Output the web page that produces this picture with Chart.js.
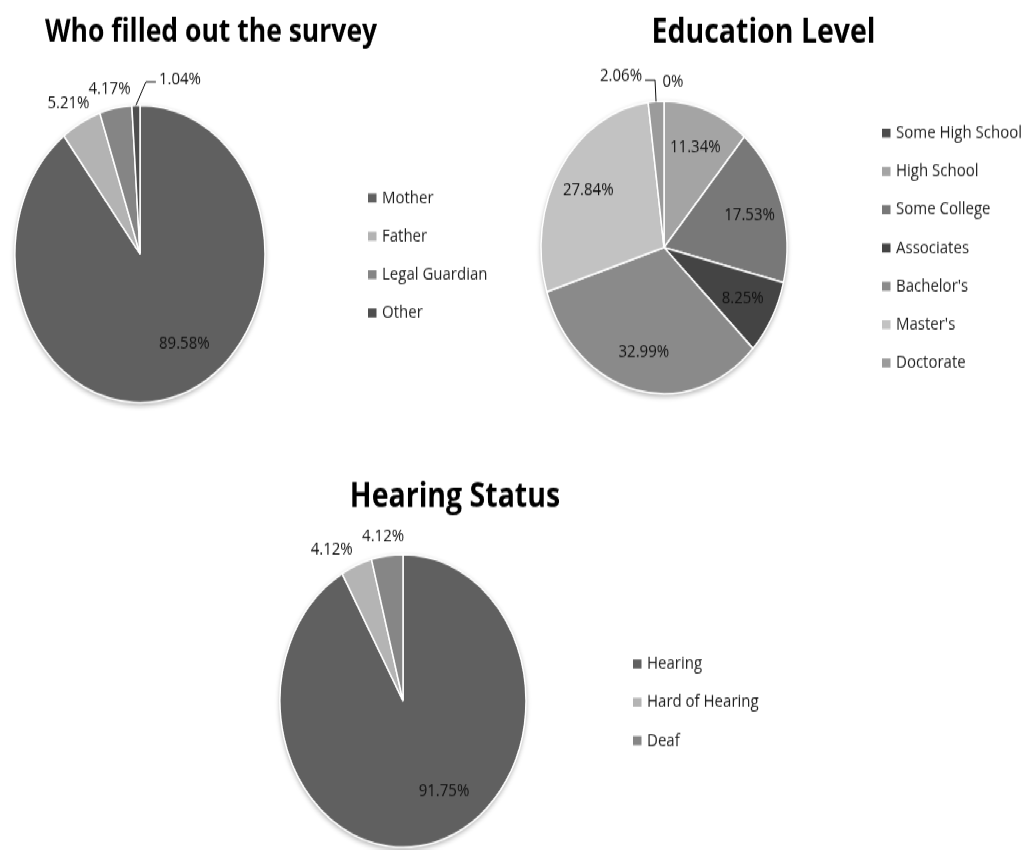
<!DOCTYPE html>
<html>
<head>
<meta charset="utf-8">
<title>Survey demographics</title>
<script src="https://cdn.jsdelivr.net/npm/chart.js@4/dist/chart.umd.min.js"></script>
<style>
    html, body { margin: 0; padding: 0; background: #fff; }
    #page { position: relative; width: 1028px; height: 850px; overflow: hidden; }
    /* charts are laid out on a 714px tall board and stretched to the page height */
    #board { position: absolute; left: 0; top: 0; width: 1028px; height: 714px;
             transform: scale(1, 1.19); transform-origin: 0 0; }
    #board canvas { position: absolute; left: 0; top: 0; }
</style>
</head>
<body>
<div id="page">
  <div id="board">
    <canvas id="respondentChart" width="1028" height="714"></canvas>
    <canvas id="educationChart" width="1028" height="714"></canvas>
    <canvas id="hearingChart" width="1028" height="714"></canvas>
  </div>
</div>
<script>
// survey results, in percent
const respondentLabels = ['Mother', 'Father', 'Legal Guardian', 'Other'];
const respondentValues = [89.58, 5.21, 4.17, 1.04];

const educationLabels = ['Some High School', 'High School', 'Some College', 'Associates', "Bachelor's", "Master's", 'Doctorate'];
const educationValues = [0, 11.34, 17.53, 8.25, 32.99, 27.84, 2.06];

const hearingLabels = ['Hearing', 'Hard of Hearing', 'Deaf'];
const hearingValues = [91.75, 4.12, 4.12];

const respondentColors = ['#606060', '#b3b3b3', '#858585', '#4e4e4e'];
const educationColors = ['#4c4c4c', '#a4a4a4', '#787878', '#444444', '#8a8a8a', '#c2c2c2', '#9b9b9b'];
const hearingColors = ['#606060', '#b4b4b4', '#868686'];

const FONT = '"Open Sans", "DejaVu Sans", sans-serif';
const BOARD_W = 1028;
const BOARD_H = 714;

function formatPct(v) {
    return v === 0 ? '0%' : v.toFixed(2) + '%';
}

// shadow under the pie, percentage labels, title and legend
const pieDecor = {
    id: 'pieDecor',
    beforeDatasetsDraw(chart) {
        const arc = chart.getDatasetMeta(0).data[0];
        const ctx = chart.ctx;
        ctx.save();
        ctx.shadowColor = 'rgba(0, 0, 0, 0.35)';
        ctx.shadowBlur = 5;
        ctx.shadowOffsetY = 2;
        ctx.fillStyle = '#fff';
        ctx.beginPath();
        ctx.arc(arc.x, arc.y, arc.outerRadius, 0, Math.PI * 2);
        ctx.fill();
        ctx.restore();
    },
    afterDatasetsDraw(chart, args, opts) {
        const ctx = chart.ctx;
        const meta = chart.getDatasetMeta(0);
        const values = chart.data.datasets[0].data;
        ctx.save();
        ctx.font = '15px ' + FONT;
        ctx.fillStyle = '#111';
        ctx.strokeStyle = '#111';
        ctx.lineWidth = 1;
        meta.data.forEach((arc, i) => {
            const text = formatPct(values[i]);
            const mid = (arc.startAngle + arc.endAngle) / 2;
            const cos = Math.cos(mid);
            const sin = Math.sin(mid);
            const r = arc.outerRadius;
            const mode = opts.placement[i] || 'in';
            const nudge = (opts.nudges && opts.nudges[i]) || [0, 0];
            let x, y;
            ctx.textAlign = 'center';
            ctx.textBaseline = 'middle';
            if (mode === 'in') {
                x = arc.x + r * 0.73 * cos;
                y = arc.y + r * 0.73 * sin;
            } else if (mode === 'out') {
                const w = ctx.measureText(text).width;
                x = arc.x + (r + 10) * cos + (w / 2) * cos;
                y = arc.y + (r + 10) * sin + 6 * sin;
            } else {
                // leader line: edge -> elbow -> short horizontal run
                const ex = arc.x + r * cos;
                const ey = arc.y + r * sin;
                const ax = ex + mode.dx;
                const ay = ey + mode.dy;
                const bx = ax + mode.run;
                ctx.beginPath();
                ctx.moveTo(ex, ey);
                ctx.lineTo(ax, ay);
                ctx.lineTo(bx, ay);
                ctx.stroke();
                ctx.textAlign = mode.run > 0 ? 'left' : 'right';
                x = bx + (mode.run > 0 ? 3 : -3);
                y = ay + mode.lift;
            }
            ctx.fillText(text, x + nudge[0], y + nudge[1]);
        });
        ctx.restore();
    },
    afterDraw(chart, args, opts) {
        const ctx = chart.ctx;
        ctx.save();
        ctx.fillStyle = '#000';
        ctx.font = 'bold ' + opts.title.size + 'px ' + FONT;
        ctx.textAlign = 'center';
        ctx.textBaseline = 'middle';
        ctx.fillText(opts.title.text, opts.title.x, opts.title.y);

        const lg = opts.legend;
        const colors = chart.data.datasets[0].backgroundColor;
        ctx.font = '15px ' + FONT;
        ctx.textAlign = 'left';
        chart.data.labels.forEach((label, i) => {
            const y = lg.y + i * lg.gap;
            ctx.fillStyle = colors[i];
            ctx.fillRect(lg.x, y - 3.8, 8.5, 7.6);
            ctx.fillStyle = '#1e1e1e';
            ctx.fillText(label, lg.x + 14, y);
        });
        ctx.restore();
    }
};

function makePie(canvasId, labels, values, colors, frame, decor) {
    const {cx, cy, r} = frame;
    return new Chart(document.getElementById(canvasId), {
        type: 'pie',
        data: {
            labels: labels,
            datasets: [{
                data: values,
                backgroundColor: colors,
                borderColor: '#ffffff',
                borderWidth: 1.5,
                hoverOffset: 0
            }]
        },
        options: {
            responsive: false,
            animation: false,
            devicePixelRatio: 1,
            events: [],
            radius: r,
            layout: {
                padding: {
                    left: cx - r,
                    right: BOARD_W - cx - r,
                    top: cy - r,
                    bottom: BOARD_H - cy - r
                }
            },
            plugins: {
                legend: { display: false },
                tooltip: { enabled: false },
                title: { display: false },
                pieDecor: decor
            }
        },
        plugins: [pieDecor]
    });
}

makePie('respondentChart', respondentLabels, respondentValues, respondentColors,
    { cx: 140, cy: 213.4, r: 125 },
    {
        title: { text: 'Who filled out the survey', x: 211, y: 27.7, size: 26.5 },
        legend: { x: 368, y: 166.4, gap: 32.2 },
        placement: ['in', 'out', 'out', { dx: 10, dy: -19.6, run: 10, lift: -1.7 }],
        nudges: { 0: [15, -11], 1: [2, -2] }
    });

makePie('educationChart', educationLabels, educationValues, educationColors,
    { cx: 664, cy: 208, r: 123 },
    {
        title: { text: 'Education Level', x: 763.5, y: 27.7, size: 28.5 },
        legend: { x: 882, y: 111.8, gap: 32.2 },
        placement: ['out', 'in', 'in', 'in', 'in', 'in', { dx: -1, dy: -18, run: -10, lift: -3.3 }],
        nudges: { 0: [9, 0] }
    });

makePie('hearingChart', hearingLabels, hearingValues, hearingColors,
    { cx: 403, cy: 589, r: 123 },
    {
        title: { text: 'Hearing Status', x: 455, y: 417.6, size: 28.5 },
        legend: { x: 633, y: 558, gap: 32.2 },
        placement: ['in', 'out', 'out'],
        nudges: { 0: [18, -11], 1: [-13, 1] }
    });
</script>
</body>
</html>
